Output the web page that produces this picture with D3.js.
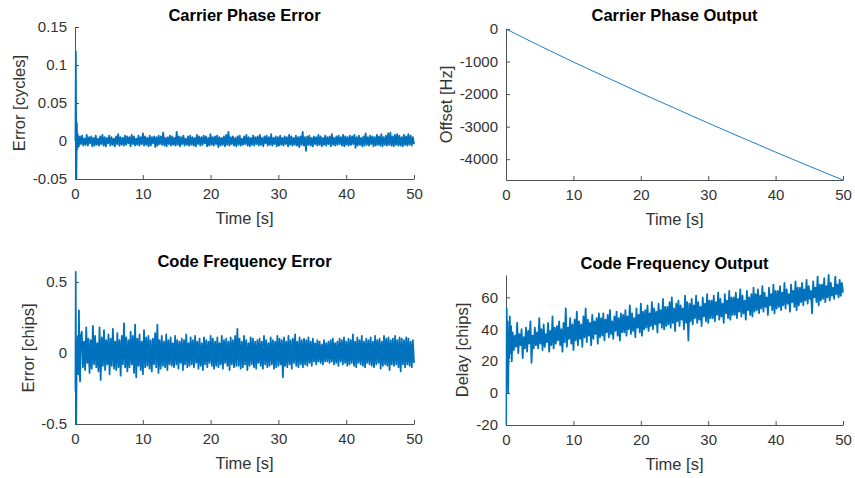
<!DOCTYPE html>
<html lang="en">
<head>
    <meta charset="UTF-8">
    <title>Tracking loop results</title>
    <script src="https://cdn.jsdelivr.net/npm/d3@7"></script>
    <style>
        body { margin: 0; background: #fff; }
        svg { display: block; font-family: "Liberation Sans", Arial, Helvetica, sans-serif; }
    </style>
</head>
<body>
<script>
    // ---- data ----
    const timeTicks = [0, 10, 20, 30, 40, 50];

    // carrier phase error, noise part in milli-cycles
    const cpeTicks = [-0.05, 0, 0.05, 0.1, 0.15];
    const cpeStartT = [0, 0.12, 0.2, 0.27, 0.34];
    const cpeStartY = [0, 0.118, -0.05, 0.024, -0.01];
    const cpeNoiseMilli = [
        9,-7,6,-4,7,-6,3,-5,8,-6,5,-3,6,-7,4,-6,7,-5,3,-6,
        6,-4,8,-6,5,-7,4,-3,7,-6,5,-5,3,-7,6,-4,9,-6,5,-5,
        4,-6,7,-5,6,-3,5,-7,8,-4,6,-6,3,-5,7,-6,5,-4,10,-6,
        6,-5,4,-7,7,-6,5,-3,6,-8,5,-6,7,-4,6,-5,11,-6,4,-7,
        5,-4,7,-6,6,-5,4,-6,12,-5,6,-7,5,-4,7,-6,3,-5,6,-6,
        7,-5,5,-6,4,-7,8,-4,6,-6,5,-5,7,-3,6,-7,4,-6,9,-5,
        5,-6,6,-4,7,-8,5,-6,4,-5,6,-7,8,-5,12,-6,5,-4,6,-6,
        4,-7,6,-5,7,-6,3,-5,6,-4,8,-6,5,-7,4,-5,7,-6,5,-4,
        6,-6,8,-5,4,-7,6,-3,7,-6,5,-5,9,-6,4,-4,6,-7,5,-6,
        7,-5,4,-6,6,-4,5,-7,8,-5,6,-6,4,-5,7,-6,5,-8,6,-5,
        12,-6,5,-13,6,-5,7,-6,4,-7,6,-4,5,-6,8,-5,6,-7,4,-5,
        7,-6,5,-4,6,-7,9,-5,4,-6,6,-5,7,-4,5,-6,8,-7,6,-5,
        5,-6,7,-5,6,-4,8,-9,5,-6,7,-5,4,-7,6,-6,10,-5,5,-6,
        7,-4,6,-7,5,-6,8,-5,6,-6,9,-7,5,-5,7,-6,10,-5,11,-6,
        6,-7,8,-5,9,-6,7,-6,5,-7,8,-5,6,-6,9,-5,7,-6,5,-4
    ];

    // carrier phase output [Hz]
    const cpoTicks = [-4000, -3000, -2000, -1000, 0];
    const cpoT = [0, 2.5, 5, 7.5, 10, 12.5, 15, 17.5, 20, 22.5, 25, 27.5, 30, 32.5, 35, 37.5, 40, 42.5, 45, 47.5, 50];
    const cpoY = [0, -260, -515, -765, -1015, -1255, -1495, -1730, -1970, -2200, -2430, -2660, -2890, -3115, -3340, -3560, -3785, -4000, -4215, -4430, -4640];

    // code frequency error, noise part in hundredths of a chip
    const cfeTicks = [-0.5, 0, 0.5];
    const cfeStartT = [0, 0.1, 0.18, 0.26, 0.34, 0.42, 0.5, 0.58, 0.66, 0.75, 0.85];
    const cfeStartY = [-0.27, 0.57, -0.5, 0.06, -0.1, 0.12, -0.15, 0.3, -0.08, -0.2, 0.12];
    const cfeNoiseCenti = [
        15,-10,8,-12,18,-7,10,-14,9,-11,19,-8,12,-10,7,-13,18,-19,11,-9,
        16,-12,9,-8,13,-15,10,-9,17,-11,8,-12,14,-10,9,-16,12,-8,21,-10,
        11,-13,9,-10,15,-8,12,-14,20,-17,10,-9,13,-12,8,-15,16,-10,11,-9,
        12,-11,9,-13,10,-8,14,-10,20,-14,9,-11,12,-9,8,-10,13,-12,9,-8,
        11,-9,7,-10,12,-8,9,-11,8,-7,10,-12,9,-8,13,-10,7,-9,11,-8,
        9,-10,12,-7,8,-11,10,-9,7,-12,11,-8,9,-10,8,-7,12,-9,10,-11,
        8,-9,11,-10,7,-8,12,-11,9,-7,10,-9,8,-12,11,-8,9,-10,12,-9,
        17,-9,10,-11,8,-10,12,-8,9,-12,7,-9,11,-8,10,-10,8,-11,9,-7,
        10,-9,8,-11,12,-8,9,-10,7,-9,11,-8,9,-11,8,-10,12,-9,10,-8,
        9,-17,11,-9,8,-10,12,-8,9,-11,10,-7,13,-9,8,-10,11,-8,9,-10,
        10,-8,9,-9,11,-7,8,-9,10,-6,7,-8,9,-6,8,-7,6,-8,9,-6,
        7,-6,8,-7,9,-6,10,-8,7,-7,8,-9,10,-6,9,-8,11,-7,8,-9,
        10,-8,9,-7,13,-9,8,-10,11,-7,9,-8,12,-9,8,-10,10,-7,9,-8,
        11,-9,8,-10,12,-8,9,-7,10,-11,8,-9,12,-8,10,-9,11,-12,9,-8,
        10,-9,12,-8,9,-10,11,-13,10,-8,9,-10,11,-8,10,-9,8,-10,9,-7
    ];

    // code frequency output [chips]
    const cfoTicks = [-20, 0, 20, 40, 60];
    const cfoStartT = [0, 0.1, 0.17, 0.24, 0.32, 0.4, 0.48, 0.56, 0.65, 0.75, 0.85];
    const cfoStartY = [-20, 53, 20, 45, 0, 38, 22, 48, 25, 42, 20];
    const cfoNoise = [
        38,27,36,29,44,25,37,30,40,22,35,28,41,26,39,31,45,19,36,28,
        41,30,38,28,47,31,40,27,43,29,37,32,44,26,39,30,48,28,41,31,
        42,33,45,30,40,26,44,32,53,29,41,34,47,31,43,27,46,33,51,30,
        45,34,43,29,48,35,53,32,46,36,44,30,49,34,45,37,47,31,50,35,
        47,36,50,33,46,38,49,35,52,37,45,34,48,39,51,36,47,33,50,38,
        49,38,52,36,48,40,55,37,50,39,47,35,53,41,49,38,56,36,51,40,
        52,41,55,39,50,42,57,40,53,43,51,38,56,44,52,41,59,40,54,42,
        54,43,57,41,60,44,53,39,56,45,58,42,55,46,53,40,61,44,57,33,
        56,45,59,43,55,47,61,44,57,46,54,42,60,48,56,45,62,44,58,47,
        58,47,61,45,57,49,63,46,59,48,56,44,62,50,58,47,64,46,60,49,
        60,49,63,47,59,51,65,48,61,50,58,46,64,52,60,49,62,48,66,51,
        62,52,65,50,61,53,67,51,63,54,60,49,66,55,62,52,68,50,64,53,
        64,54,67,52,63,55,69,53,65,56,62,51,68,57,64,54,70,52,66,55,
        66,57,69,55,65,58,71,56,67,59,64,50,70,60,66,57,73,55,68,58,
        68,59,72,57,67,60,74,58,69,61,66,59,73,62,68,60,71,61,69,63
    ];

    // ---- helpers ----
    const lineColor = '#0072BD';
    const axisColor = '#505050';
    const textColor = '#333';

    // start-up samples + evenly spaced noise samples between t0 and t1
    function joinSeries(startT, startY, noise, unit, t0, t1) {
        let pts = startT.map((t, i) => [t, startY[i]]);
        noise.forEach((v, i) => {
            pts.push([t0 + i * (t1 - t0) / (noise.length - 1), v * unit]);
        });
        return pts;
    }

    let svg = d3.select('body')
                .append('svg')
                .attr('width', 855)
                .attr('height', 478);

    let clipId = 0;

    function panel(cfg) {
        let x = d3.scaleLinear().domain([0, 50]).range([cfg.left, cfg.right]);
        let y = d3.scaleLinear().domain(cfg.yDomain).range([cfg.bottom, cfg.top]);
        let g = svg.append('g');

        let id = 'clip' + (clipId++);
        svg.append('clipPath').attr('id', id)
           .append('rect')
           .attr('x', cfg.left - 0.5).attr('y', cfg.top - 1)
           .attr('width', cfg.right - cfg.left + 1.5)
           .attr('height', cfg.bottom - cfg.top + 2);

        // axes first (matlab draws them under the data), ticks point inward
        let xAxis = g.append('g')
                     .attr('transform', `translate(0,${cfg.bottom})`)
                     .call(d3.axisBottom(x).tickValues(timeTicks).tickFormat(d => d)
                             .tickSizeInner(-4).tickSizeOuter(0).tickPadding(9));
        let yAxis = g.append('g')
                     .attr('transform', `translate(${cfg.left},0)`)
                     .call(d3.axisLeft(y).tickValues(cfg.yTicks).tickFormat(d => String(+d.toFixed(3)))
                             .tickSizeInner(-4).tickSizeOuter(0).tickPadding(8));
        [xAxis, yAxis].forEach(a => {
            a.select('.domain').attr('stroke', axisColor);
            a.selectAll('.tick line').attr('stroke', axisColor);
            a.selectAll('.tick text')
             .attr('fill', textColor)
             .style('font-size', '15px')
             .style('font-family', '"Liberation Sans", Arial, sans-serif');
        });

        // data line
        g.append('path')
         .datum(cfg.points)
         .attr('clip-path', `url(#${id})`)
         .attr('fill', 'none')
         .attr('stroke', lineColor)
         .attr('stroke-width', cfg.width || 1)
         .attr('stroke-linejoin', 'round')
         .attr('d', d3.line().x(d => x(d[0])).y(d => y(d[1])));

        let cx = (cfg.left + cfg.right) / 2;
        g.append('text')
         .attr('x', cx).attr('y', cfg.titleY)
         .attr('text-anchor', 'middle')
         .attr('dominant-baseline', 'central')
         .style('font-size', '16.5px')
         .style('font-weight', 'bold')
         .attr('fill', '#000')
         .text(cfg.title);

        g.append('text')
         .attr('x', cx).attr('y', cfg.bottom + 39)
         .attr('text-anchor', 'middle')
         .attr('dominant-baseline', 'central')
         .style('font-size', '16.5px')
         .attr('fill', textColor)
         .text('Time [s]');

        let cy = (cfg.top + cfg.bottom) / 2;
        g.append('text')
         .attr('transform', `translate(${cfg.ylabelX},${cy}) rotate(-90)`)
         .attr('text-anchor', 'middle')
         .attr('dominant-baseline', 'central')
         .style('font-size', '16.5px')
         .attr('fill', textColor)
         .text(cfg.ylabel);
    }

    panel({
        left: 75, right: 414, top: 27, bottom: 179,
        yDomain: [-0.05, 0.15], yTicks: cpeTicks,
        title: 'Carrier Phase Error', titleY: 15,
        ylabel: 'Error [cycles]', ylabelX: 19,
        points: joinSeries(cpeStartT, cpeStartY, cpeNoiseMilli, 0.001, 0.4, 50),
        width: 1.8
    });

    panel({
        left: 506, right: 843, top: 29, bottom: 180,
        yDomain: [-4640, 0], yTicks: cpoTicks,
        title: 'Carrier Phase Output', titleY: 15,
        ylabel: 'Offset [Hz]', ylabelX: 446,
        points: cpoT.map((t, i) => [t, cpoY[i]]),
        width: 0.9
    });

    panel({
        left: 75, right: 414, top: 272, bottom: 424,
        yDomain: [-0.5, 0.57], yTicks: cfeTicks,
        title: 'Code Frequency Error', titleY: 261,
        ylabel: 'Error [chips]', ylabelX: 28,
        points: joinSeries(cfeStartT, cfeStartY, cfeNoiseCenti, 0.01, 1, 50),
        width: 1.8
    });

    panel({
        left: 506, right: 843, top: 275, bottom: 425,
        yDomain: [-20, 74], yTicks: cfoTicks,
        title: 'Code Frequency Output', titleY: 263,
        ylabel: 'Delay [chips]', ylabelX: 462,
        points: joinSeries(cfoStartT, cfoStartY, cfoNoise, 1, 1, 50),
        width: 1.8
    });
</script>
</body>
</html>
